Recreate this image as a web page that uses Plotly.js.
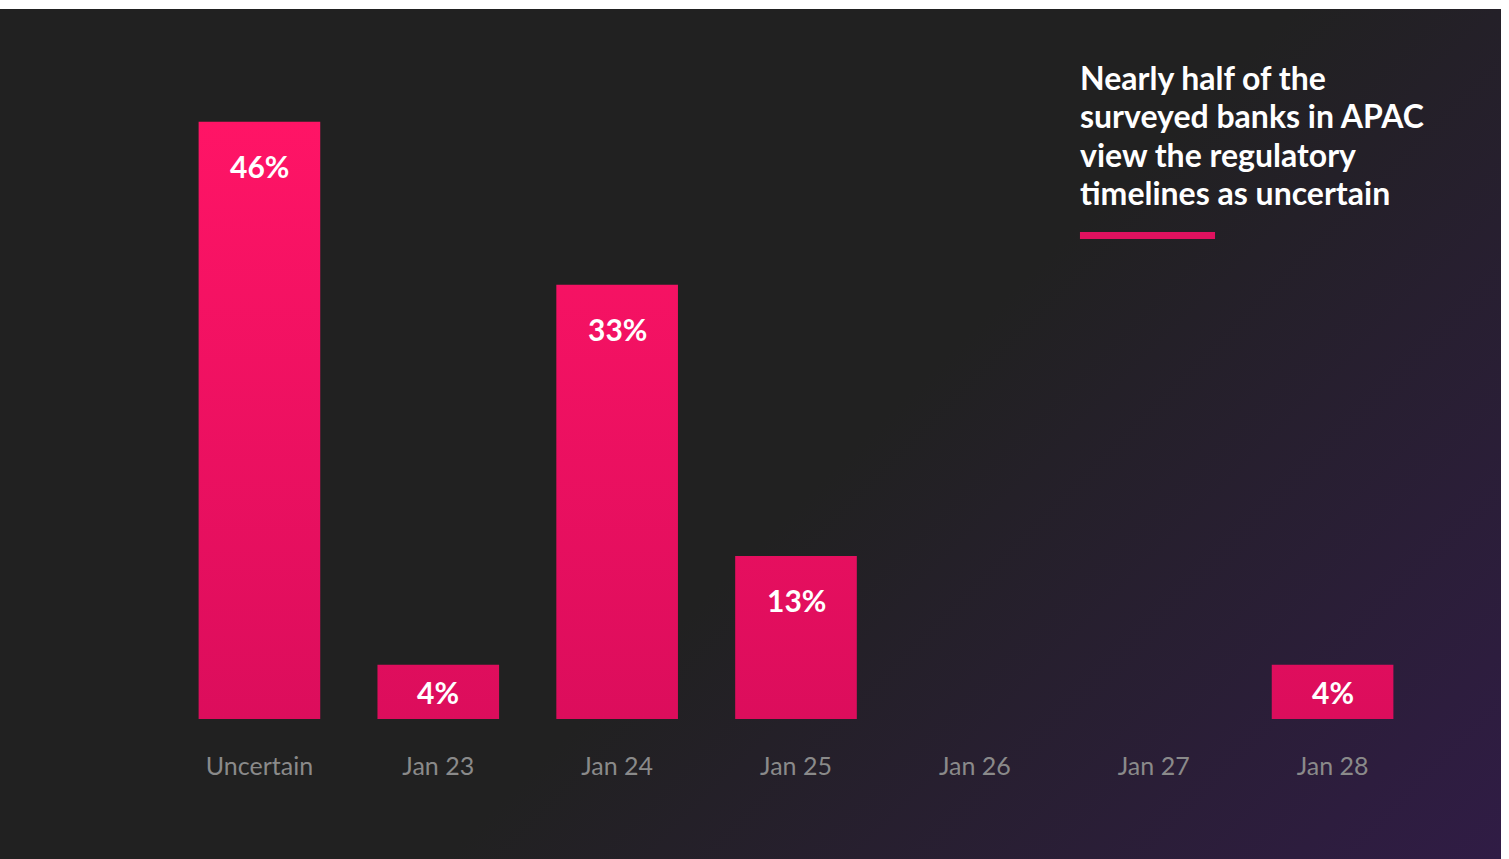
<!DOCTYPE html>
<html>
<head>
<meta charset="utf-8">
<script src="https://cdn.plot.ly/plotly-3.0.1.min.js"></script>
<style>
  html, body { margin: 0; padding: 0; background: #ffffff; width: 1509px; height: 859px; overflow: hidden; }
  #chart {
    position: absolute; left: 0; top: 9px; width: 1501px; height: 850px;
    background: linear-gradient(135deg, #212121 55%, #301c45 100%);
  }
</style>
</head>
<body>
<div id="chart"></div>
<script>
// ---- data ----
const categories = ["Uncertain", "Jan 23", "Jan 24", "Jan 25", "Jan 26", "Jan 27", "Jan 28"];
const values = [45.83, 4.17, 33.33, 12.5, 0, 0, 4.17];
const valueLabels = ["46%", "4%", "33%", "13%", "", "", "4%"];
const headline = ["Nearly half of the", "surveyed banks in APAC", "view the regulatory", "timelines as uncertain"];

// ---- styles ----
const BAR_TOP = "#ff1466";
const BAR_BOTTOM = "#dc0d5c";
const ACCENT = "#e0115f";
const FONT = "Lato, 'Noto Sans', sans-serif";

const trace = {
  type: "bar",
  x: categories,
  y: values,
  marker: { color: BAR_BOTTOM, line: { width: 0 } },
  hoverinfo: "skip",
  showlegend: false
};

const labelAnnotations = [];
categories.forEach((c, i) => {
  if (!valueLabels[i]) return;
  const big = values[i] > 8;
  labelAnnotations.push({
    x: c, xref: "x",
    y: big ? values[i] : values[i] / 2, yref: "y",
    yshift: big ? -44 : 0,
    yanchor: "middle", xanchor: "center",
    text: "<b>" + valueLabels[i] + "</b>",
    showarrow: false,
    font: { family: FONT, size: 30, color: "#ffffff" }
  });
});

const headlineAnnotations = headline.map((line, i) => ({
  xref: "paper", yref: "paper",
  x: 0.7268, xshift: -2, y: 1.022, yshift: -i * 38.5,
  xanchor: "left", yanchor: "top", align: "left",
  text: "<b>" + line + "</b>",
  showarrow: false,
  font: { family: FONT, size: 32, color: "#ffffff" }
}));

const layout = {
  width: 1501, height: 850,
  margin: { l: 170, r: 79, t: 61, b: 140 },
  paper_bgcolor: "rgba(0,0,0,0)",
  plot_bgcolor: "rgba(0,0,0,0)",
  bargap: 0.32,
  font: { family: FONT },
  xaxis: {
    type: "category",
    showgrid: false, zeroline: false, showline: false,
    ticks: "", ticklabelstandoff: 30,
    tickfont: { family: FONT, size: 25, color: "#8a8a8a" }
  },
  yaxis: {
    range: [0, 49.8], showgrid: false, zeroline: false, showline: false,
    showticklabels: false, ticks: ""
  },
  annotations: labelAnnotations.concat(headlineAnnotations),
  shapes: [{
    type: "rect", xref: "paper", yref: "paper",
    x0: 0.7268, x1: 0.8347, y0: 0.7395, y1: 0.7504,
    fillcolor: ACCENT, line: { width: 0 }
  }]
};

const gd = document.getElementById("chart");
Plotly.newPlot(gd, [trace], layout, { staticPlot: true, displayModeBar: false }).then(() => {
  // vertical gradient on bars, spanning the value axis from 0 to the largest value
  const ya = gd._fullLayout.yaxis;
  const yTop = ya.l2p(Math.max.apply(null, values));
  const yBot = ya.l2p(0);
  const svg = gd.querySelector("svg.main-svg");
  const ns = "http://www.w3.org/2000/svg";
  let defs = svg.querySelector("defs");
  if (!defs) { defs = document.createElementNS(ns, "defs"); svg.insertBefore(defs, svg.firstChild); }
  const grad = document.createElementNS(ns, "linearGradient");
  grad.setAttribute("id", "barGrad");
  grad.setAttribute("gradientUnits", "userSpaceOnUse");
  grad.setAttribute("x1", "0"); grad.setAttribute("x2", "0");
  grad.setAttribute("y1", String(yTop)); grad.setAttribute("y2", String(yBot));
  [[0, BAR_TOP], [1, BAR_BOTTOM]].forEach(([o, c]) => {
    const s = document.createElementNS(ns, "stop");
    s.setAttribute("offset", String(o)); s.setAttribute("stop-color", c);
    grad.appendChild(s);
  });
  defs.appendChild(grad);
  gd.querySelectorAll(".barlayer .point path").forEach(p => { p.style.fill = "url(#barGrad)"; });
});
</script>
</body>
</html>
